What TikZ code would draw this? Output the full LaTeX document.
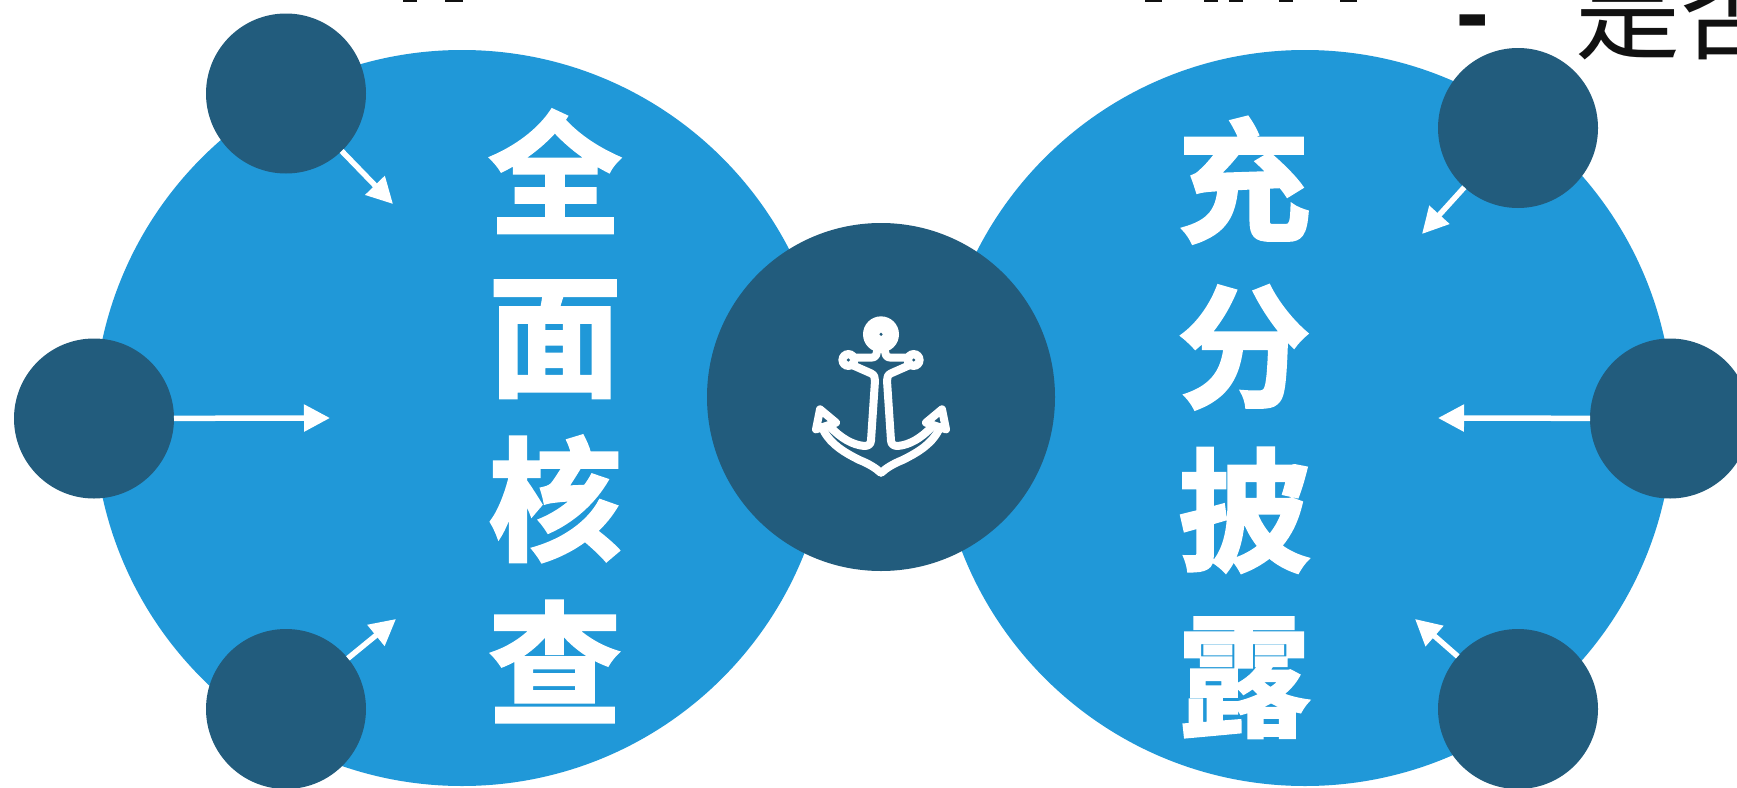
\documentclass[tikz,border=0pt]{standalone}
\usepackage{fontspec}
\usetikzlibrary{arrows.meta}
\newfontfamily\cjkbig[FakeBold=2.2]{Noto Sans CJK SC Bold}
\newfontfamily\cjkreg{Noto Sans CJK SC}
\definecolor{bigblue}{HTML}{2098D8}
\definecolor{deepblue}{HTML}{225C7D}
\definecolor{inkblack}{HTML}{111111}
\tikzset{
  bigdisc/.style={circle,fill=bigblue,minimum size=736pt,inner sep=0pt,outer sep=0pt},
  hubdisc/.style={circle,fill=deepblue,minimum size=348pt,inner sep=0pt,outer sep=0pt},
  smalldisc/.style={circle,fill=deepblue,minimum size=160pt,inner sep=0pt,outer sep=0pt},
  pointer/.style={draw=white,line width=5.5pt,-{Triangle[length=26pt,width=26pt,fill=white]}},
  bigchar/.style={text=white,anchor=base,inner sep=0pt,font=\cjkbig\fontsize{133}{133}\selectfont},
  blackchar/.style={text=inkblack,anchor=base,inner sep=0pt,font=\cjkreg\fontsize{105}{105}\selectfont},
  sliver/.style={fill=inkblack,draw=none},
  anchorline/.style={draw=white,line width=8pt,line join=round,line cap=round}
}
\begin{document}
\begin{tikzpicture}[x=1pt,y=-1pt]
\useasboundingbox (0,0) rectangle (1737,787);
\fill[white] (0,0) rectangle (1737,787);
% clipped text at the top edge
\foreach \xa/\xb in {403/417,445/463,1145/1162,1204/1218,1229/1243,1279/1293,1340/1357}
  \fill[sliver] (\xa,0) rectangle (\xb,2);
\node[blackchar,font=\cjkreg\bfseries\fontsize{90}{90}\selectfont] (dash) at (1473,46) {-};
\node[blackchar] (shi) at (1628,51) {是};
\node[blackchar] (fou) at (1733,51) {否};
% large discs
\node[bigdisc] (L) at (462,418) {};
\node[bigdisc] (R) at (1305,418) {};
% titles
\node[bigchar] (a1) at (555,224) {全};
\node[bigchar] (a2) at (555,386) {面};
\node[bigchar] (a3) at (555,550) {核};
\node[bigchar] (a4) at (555,714) {查};
\node[bigchar] (b1) at (1244,231) {充};
\node[bigchar] (b2) at (1244,397) {分};
\node[bigchar] (b3) at (1244,561) {披};
\node[bigchar] (b4) at (1244,726) {露};
% satellites
\coordinate (t1) at (393,204);
\coordinate (t2) at (330,418);
\coordinate (t3) at (396,619);
\coordinate (t4) at (1422,234);
\coordinate (t5) at (1438,418);
\coordinate (t6) at (1415,619);
\node[smalldisc] (s1) at (286,93.5) {};
\node[smalldisc] (s2) at (94,418.5) {};
\node[smalldisc] (s3) at (286,709) {};
\node[smalldisc] (s4) at (1518,128) {};
\node[smalldisc] (s5) at (1670,418.5) {};
\node[smalldisc] (s6) at (1518,709) {};
\foreach \n in {1,...,6} \draw[pointer] (s\n) -- (t\n);
% hub
\node[hubdisc] (hub) at (881,397) {};
% anchor
\begin{scope}[shift={(881,290)},x=0.3333pt,y=-0.3333pt]
 \foreach \sx in {1,-1}{
  \begin{scope}[xscale=\sx]
   \draw[anchorline] (-12,165) .. controls (-10,195) and (-15,203) .. (-30,203)
     -- (-98,203) (-98,220) -- (-30,250) .. controls (-20,255) and (-18,262) .. (-18,272)
     -- (-30,452) .. controls (-31,463) and (-38,468) .. (-50,468)
     .. controls (-85,465) and (-120,445) .. (-153,410);
   \draw[anchorline] (-183,358) -- (-135,398) -- (-195,418) -- cycle;
   \draw[anchorline] (-172,422)
     .. controls (-150,465) and (-105,490) .. (-65,510)
     .. controls (-35,522) and (-15,535) .. (-1,548);
  \end{scope}
 }
 \fill[white] (0,133) circle (54);
 \fill[white] (-98,210) circle (30);
 \fill[white] (98,210) circle (30);
 \fill[deepblue] (0,133) circle (5);
 \fill[deepblue] (-98,210) circle (5);
 \fill[deepblue] (98,210) circle (5);
\end{scope}
\end{tikzpicture}
\end{document}
